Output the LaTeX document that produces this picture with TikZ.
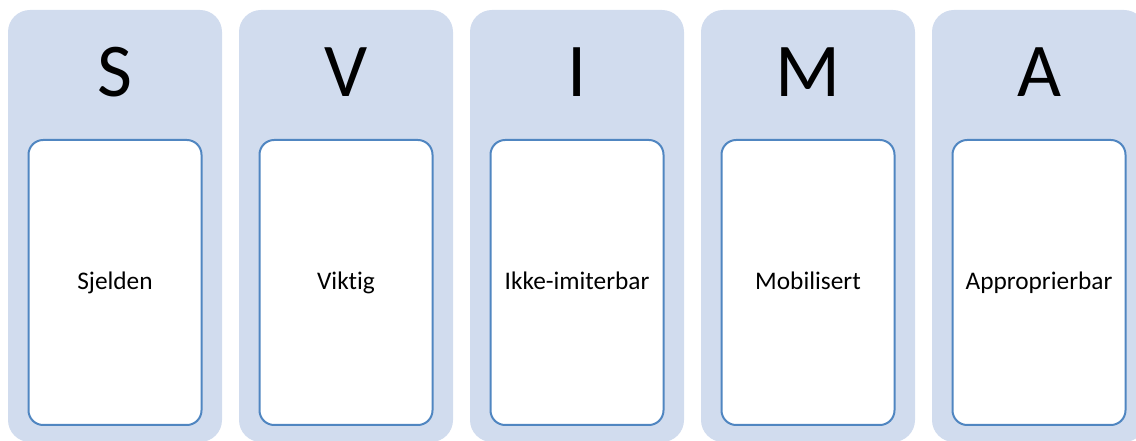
\documentclass[tikz,border=0pt]{standalone}
\usepackage{fontspec}
\setmainfont{Carlito}[Ligatures={NoCommon}]
\usepackage{xcolor}
\usepackage{tikz}
\usetikzlibrary{positioning}
\definecolor{paleBlue}{HTML}{D1DCEE}
\definecolor{lineBlue}{HTML}{5086C1}
\definecolor{ink}{HTML}{000000}
\tikzset{
  column/.style={rectangle, rounded corners=16.5pt, fill=paleBlue, draw=none, inner sep=0pt, minimum width=160.5pt, minimum height=324pt},
  letter/.style={anchor=base, inner sep=0pt, font=\fontsize{57}{60}\selectfont, text=ink},
  card/.style={rectangle, rounded corners=11pt, fill=white, draw=lineBlue, line width=1.5pt, inner sep=0pt, minimum width=129.75pt, minimum height=213.75pt, text height=15pt, text depth=3.8pt, font=\fontsize{19}{22}\selectfont, text=ink},
}

\begin{document}
\begin{tikzpicture}[x=0.75pt, y=-0.75pt]
\useasboundingbox (0,0) rectangle (1136,441);
\clip (0,0) rectangle (1136,441);
\node[column] (colS) at (115,226) {};
\node[column] (colV) at (346,226) {};
\node[column] (colI) at (577,226) {};
\node[column] (colM) at (808,226) {};
\node[column] (colA) at (1039,226) {};
\node[letter] (letS) at (115,97) {S};
\node[letter] (letV) at (346,97) {V};
\node[letter] (letI) at (577,97) {I};
\node[letter] (letM) at (808,97) {M};
\node[letter] (letA) at (1039,97) {A};
\node[card] (cardS) at (115,282.5) {Sjelden};
\node[card] (cardV) at (346,282.5) {Viktig};
\node[card] (cardI) at (577,282.5) {Ikke-imiterbar};
\node[card] (cardM) at (808,282.5) {Mobilisert};
\node[card] (cardA) at (1039,282.5) {Approprierbar};
\end{tikzpicture}
\end{document}
